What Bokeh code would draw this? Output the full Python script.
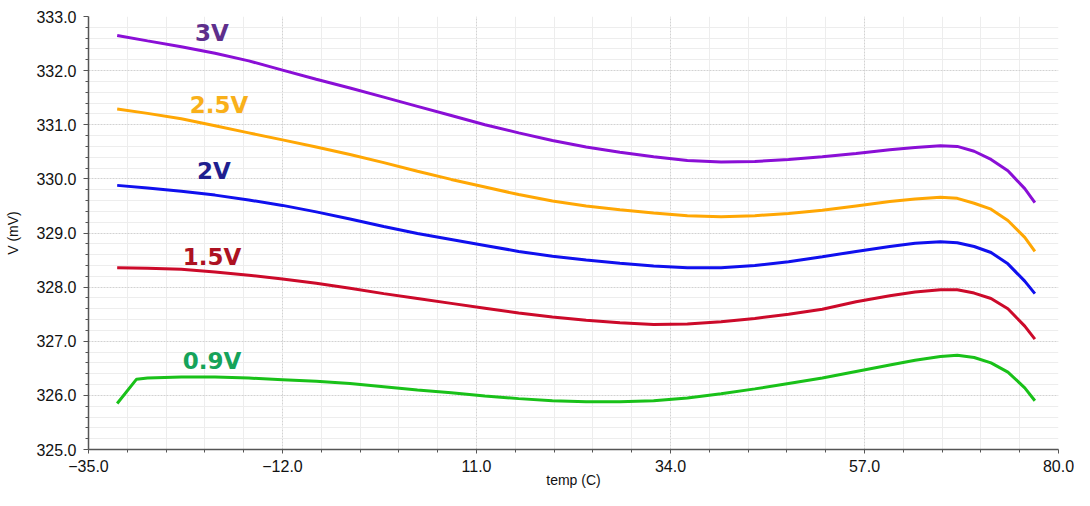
from bokeh.plotting import figure
from bokeh.models import Range1d, FixedTicker, PrintfTickFormatter
from bokeh.core.properties import value
from bokeh.embed import file_html
from bokeh.resources import INLINE

# ---- data ----
temp = [-31.6, -28, -24, -20, -16, -12, -8, -4, 0, 4, 8, 12, 16, 20, 24, 28,
        32, 36, 40, 44, 48, 52, 56, 60, 63, 66, 68, 70, 72, 74, 76, 77.2]
temp_09 = [-31.6, -29.3, -28, -24, -20, -16, -12, -8, -4, 0, 4, 8, 12, 16, 20, 24, 28,
           32, 36, 40, 44, 48, 52, 56, 60, 63, 66, 68, 70, 72, 74, 76, 77.2]

v_3v = [332.65, 332.55, 332.44, 332.32, 332.18, 332.01, 331.84, 331.68, 331.51, 331.34,
        331.17, 331.00, 330.85, 330.71, 330.59, 330.49, 330.41, 330.34, 330.31, 330.32,
        330.36, 330.41, 330.47, 330.54, 330.58, 330.61, 330.60, 330.51, 330.36, 330.15,
        329.82, 329.56]
v_25v = [331.29, 331.21, 331.11, 330.98, 330.85, 330.72, 330.59, 330.45, 330.30, 330.14,
         329.99, 329.85, 329.71, 329.59, 329.50, 329.43, 329.37, 329.32, 329.30, 329.32,
         329.36, 329.42, 329.50, 329.58, 329.63, 329.66, 329.64, 329.55, 329.44, 329.23,
         328.92, 328.66]
v_2v = [329.88, 329.83, 329.77, 329.70, 329.61, 329.51, 329.39, 329.26, 329.12, 328.99,
        328.88, 328.77, 328.66, 328.57, 328.50, 328.44, 328.39, 328.36, 328.36, 328.40,
        328.47, 328.56, 328.66, 328.75, 328.81, 328.84, 328.82, 328.75, 328.64, 328.43,
        328.11, 327.88]
v_15v = [328.36, 328.35, 328.33, 328.28, 328.22, 328.15, 328.07, 327.98, 327.88, 327.79,
         327.70, 327.61, 327.52, 327.45, 327.39, 327.34, 327.31, 327.32, 327.36, 327.42,
         327.50, 327.59, 327.73, 327.84, 327.91, 327.95, 327.95, 327.89, 327.79, 327.60,
         327.28, 327.04]
v_09v = [325.85, 326.30, 326.32, 326.34, 326.34, 326.32, 326.29, 326.26, 326.22, 326.16,
         326.10, 326.05, 325.99, 325.94, 325.90, 325.88, 325.88, 325.90, 325.95, 326.03,
         326.12, 326.22, 326.32, 326.44, 326.56, 326.65, 326.72, 326.74, 326.70, 326.60,
         326.43, 326.14, 325.90]

series_names = ["3V", "2.5V", "2V", "1.5V", "0.9V"]
x_ticks = [-35.0, -12.0, 11.0, 34.0, 57.0, 80.0]
y_ticks = [325.0, 326.0, 327.0, 328.0, 329.0, 330.0, 331.0, 332.0, 333.0]

# ---- styles ----
line_colors = ["#8a0fd6", "#ffa704", "#1010ee", "#cc0a2a", "#19c119"]
label_colors = ["#5e2f8c", "#f9b01a", "#1f1f8f", "#ad1222", "#16a35a"]
label_dx = [-3, 4, -1, -3, -3]
label_dy = [-20, -21, -24, -15, -16]
label_idx = 3

p = figure(width=1074, height=490, output_backend="svg", toolbar_location=None,
           x_range=Range1d(x_ticks[0], x_ticks[-1]), y_range=Range1d(y_ticks[0], y_ticks[-1]),
           min_border_left=88, min_border_right=16, min_border_top=16, min_border_bottom=36)
p.outline_line_color = None
p.background_fill_color = "white"

series = [(temp, v_3v), (temp, v_25v), (temp, v_2v), (temp, v_15v), (temp_09, v_09v)]
for i, (xs, ys) in enumerate(series):
    p.line(xs, ys, line_color=line_colors[i], line_width=3)
    j = label_idx if i < 4 else label_idx + 1
    p.text([xs[j]], [ys[j]], text=[series_names[i]], text_color=label_colors[i],
           text_font=value("DejaVu Sans"), text_font_style="bold", text_font_size="23px",
           text_align="center", text_baseline="middle",
           x_offset=label_dx[i], y_offset=label_dy[i])

# ticks
x_minor = []
for a, b in zip(x_ticks[:-1], x_ticks[1:]):
    step = (b - a) / 5
    x_minor += [a + step * k for k in range(1, 5)]
y_minor = []
for a, b in zip(y_ticks[:-1], y_ticks[1:]):
    step = (b - a) / 5
    y_minor += [a + step * k for k in range(1, 5)]

p.xaxis.ticker = FixedTicker(ticks=x_ticks, minor_ticks=x_minor)
p.yaxis.ticker = FixedTicker(ticks=y_ticks, minor_ticks=y_minor)
p.xaxis.formatter = PrintfTickFormatter(format="%.1f")
p.yaxis.formatter = PrintfTickFormatter(format="%.1f")
p.xaxis.major_label_overrides = {-35.0: "\u221235.0", -12.0: "\u221212.0"}

for ax in (p.xaxis[0], p.yaxis[0]):
    ax.axis_line_color = "#555555"
    ax.axis_line_width = 1.5
    ax.major_tick_line_color = "#555555"
    ax.minor_tick_line_color = "#555555"
    ax.major_tick_in = 0
    ax.minor_tick_in = 0
    ax.major_label_text_font = "Liberation Sans"
    ax.major_label_text_font_size = "16px"
    ax.major_label_text_color = "#111111"
    ax.axis_label_text_font = "Liberation Sans"
    ax.axis_label_text_font_size = "14px"
    ax.axis_label_text_font_style = "normal"
    ax.axis_label_text_color = "#111111"

p.xaxis.major_tick_out = 4
p.xaxis.minor_tick_out = 3
p.yaxis.major_tick_out = 5
p.yaxis.minor_tick_out = 3
p.xaxis.major_label_standoff = 6
p.yaxis.major_label_standoff = 7
p.xaxis.axis_label = "temp (C)"
p.yaxis.axis_label = "V (mV)"
p.xaxis.axis_label_standoff = -3
p.yaxis.axis_label_standoff = 12

for g in (p.xgrid[0], p.ygrid[0]):
    g.grid_line_color = "#d2d2d2"
    g.grid_line_dash = "2 1"
    g.grid_line_width = 1
    g.minor_grid_line_color = "#ededed"
    g.minor_grid_line_width = 1

open("out.html", "w").write(file_html(p, INLINE))
